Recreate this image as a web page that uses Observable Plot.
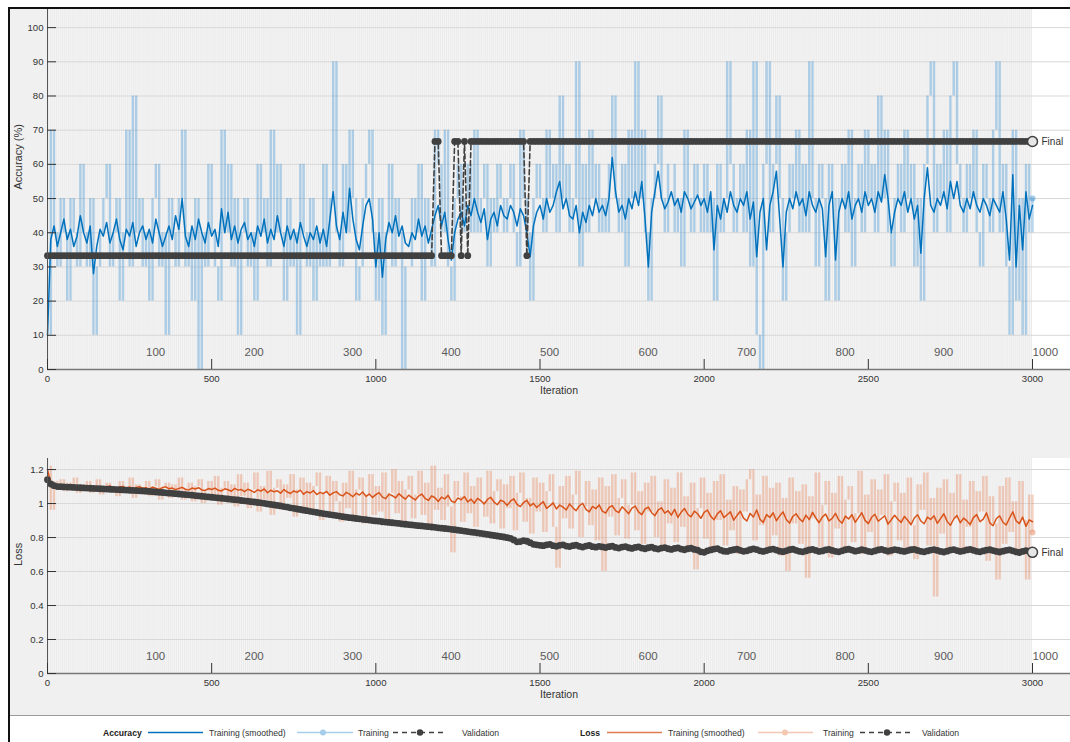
<!DOCTYPE html>
<html><head><meta charset="utf-8">
<script src="https://cdn.jsdelivr.net/npm/d3@7"></script>
<script src="https://cdn.jsdelivr.net/npm/@observablehq/plot@0.6"></script>
<style>
body{margin:0;background:#fff;font-family:"Liberation Sans",Arial,sans-serif;}
#fig{position:relative;width:1070px;height:742px;background:#fff;overflow:hidden;}
#panel{position:absolute;left:10px;top:9px;width:1060px;height:707px;background:#f0f0f0;}
#bl{position:absolute;left:8px;top:7px;width:2px;height:735px;background:#111;}
#bt{position:absolute;left:8px;top:7px;width:1062px;height:2px;background:#111;}
#acc{position:absolute;left:0;top:9px;}
#loss{position:absolute;left:0;top:458px;}
#legend{position:absolute;left:0;top:715px;}
</style></head>
<body><div id="fig"><div id="panel"></div><div id="bl"></div><div id="bt"></div>
<div id="acc"></div><div id="loss"></div><div id="legend"></div></div>
<script>
// Logged every 10 iterations: 0,10,...,3000
const logStep = 10;
const itersPerEpoch = 3;
const totalIterations = 3000;
const epochLabels = [100,200,300,400,500,600,700,800,900,1000];
const xTicks = [0,500,1000,1500,2000,2500,3000];
const accTicks = [0,10,20,30,40,50,60,70,80,90,100];
const lossTicks = [0,0.2,0.4,0.6,0.8,1,1.2];

const accTrain = [
10,70,40,30,50,40,20,50,40,30, 60,40,30,50,10,30,40,50,60,30, 40,50,20,40,70,30,80,40,50,30,
40,20,50,60,30,40,10,50,40,30, 50,70,30,40,20,50,0,40,30,60, 40,30,20,70,40,60,30,50,10,40,
50,30,40,20,60,40,50,30,70,40, 60,40,20,50,30,40,10,60,40,30, 50,20,40,30,60,30,50,90,40,30,
60,40,70,50,20,30,50,60,70,40, 20,50,10,40,60,30,50,40,0,30, 30,50,40,60,20,50,40,30,70,60,
40,70,30,20,50,60,40,50,60,40, 70,40,50,60,30,50,40,60,50,40, 50,60,40,30,70,50,40,20,50,60,
50,40,70,50,60,40,80,50,60,40, 50,90,30,60,40,70,50,60,40,50, 40,60,80,50,40,60,30,70,50,90,
50,70,40,20,50,60,80,50,40,60, 60,40,50,30,70,50,40,60,50,40, 60,40,50,20,60,40,50,90,60,40,
50,60,40,70,30,90,10,0,60,90, 40,60,80,50,20,40,60,50,70,40, 60,40,90,50,30,60,50,20,60,50,
20,50,60,40,70,30,50,60,40,70, 50,60,40,80,50,70,40,30,50,60, 40,70,50,60,30,50,20,60,80,90,
40,60,50,70,40,80,90,60,50,40, 60,50,70,40,30,60,50,40,70,90, 40,60,30,10,70,20,50,10,60,40,
50];
const accSmooth = [
10,38,42,36,40,44,38,41,36,39, 45,40,37,42,28,36,41,39,43,37, 40,44,38,35,41,39,43,36,40,42,
38,41,37,44,40,36,39,42,38,45, 41,50,39,36,42,38,44,40,37,43, 39,41,36,47,40,46,38,42,37,41,
43,38,40,36,42,39,44,37,41,38, 45,40,36,42,38,41,37,43,39,36, 40,38,42,37,41,36,44,52,42,38,
46,40,53,44,38,35,42,48,50,44, 30,40,27,38,43,40,45,39,42,37, 36,40,38,44,39,42,37,41,45,48,
42,46,38,32,40,44,46,42,48,45, 50,46,43,47,38,44,46,42,48,45, 44,48,46,42,47,45,40,33,42,46,
48,44,50,46,48,52,55,47,50,45, 44,48,40,46,43,48,45,50,46,48, 45,50,62,52,46,48,44,50,47,52,
48,55,44,30,46,52,58,50,47,49, 52,48,50,46,52,50,47,49,51,48, 50,46,52,35,48,44,50,46,52,48,
46,50,48,52,44,49,33,46,50,35, 48,52,58,44,30,46,50,47,52,48, 50,45,52,48,46,50,47,33,48,52,
32,46,50,47,52,44,48,50,46,52, 48,50,46,52,49,57,50,40,46,50, 48,52,46,50,44,48,34,50,59,48,
46,50,48,52,47,55,50,55,48,46, 50,47,52,48,46,50,48,45,50,48, 46,52,44,32,57,30,48,35,52,44,
48];
const accVal = [
33.3,33.3,33.3,33.3,33.3,33.3,33.3,33.3,33.3,33.3, 33.3,33.3,33.3,33.3,33.3,33.3,33.3,33.3,33.3,33.3,
33.3,33.3,33.3,33.3,33.3,33.3,33.3,33.3,33.3,33.3, 33.3,33.3,33.3,33.3,33.3,33.3,33.3,33.3,33.3,33.3,
33.3,33.3,33.3,33.3,33.3,33.3,33.3,33.3,33.3,33.3, 33.3,33.3,33.3,33.3,33.3,33.3,33.3,33.3,33.3,33.3,
33.3,33.3,33.3,33.3,33.3,33.3,33.3,33.3,33.3,33.3, 33.3,33.3,33.3,33.3,33.3,33.3,33.3,33.3,33.3,33.3,
33.3,33.3,33.3,33.3,33.3,33.3,33.3,33.3,33.3,33.3, 33.3,33.3,33.3,33.3,33.3,33.3,33.3,33.3,33.3,33.3,
33.3,33.3,33.3,33.3,33.3,33.3,33.3,33.3,33.3,33.3, 33.3,33.3,33.3,33.3,33.3,33.3,33.3,33.3,66.7,66.7,
33.3,33.3,33.3,33.3,66.7,66.7,33.3,66.7,33.3,66.7, 66.7,66.7,66.7,66.7,66.7,66.7,66.7,66.7,66.7,66.7,
66.7,66.7,66.7,66.7,66.7,66.7,33.3,66.7,66.7,66.7, 66.7,66.7,66.7,66.7,66.7,66.7,66.7,66.7,66.7,66.7,
66.7,66.7,66.7,66.7,66.7,66.7,66.7,66.7,66.7,66.7, 66.7,66.7,66.7,66.7,66.7,66.7,66.7,66.7,66.7,66.7,
66.7,66.7,66.7,66.7,66.7,66.7,66.7,66.7,66.7,66.7, 66.7,66.7,66.7,66.7,66.7,66.7,66.7,66.7,66.7,66.7,
66.7,66.7,66.7,66.7,66.7,66.7,66.7,66.7,66.7,66.7, 66.7,66.7,66.7,66.7,66.7,66.7,66.7,66.7,66.7,66.7,
66.7,66.7,66.7,66.7,66.7,66.7,66.7,66.7,66.7,66.7, 66.7,66.7,66.7,66.7,66.7,66.7,66.7,66.7,66.7,66.7,
66.7,66.7,66.7,66.7,66.7,66.7,66.7,66.7,66.7,66.7, 66.7,66.7,66.7,66.7,66.7,66.7,66.7,66.7,66.7,66.7,
66.7,66.7,66.7,66.7,66.7,66.7,66.7,66.7,66.7,66.7, 66.7,66.7,66.7,66.7,66.7,66.7,66.7,66.7,66.7,66.7,
66.7,66.7,66.7,66.7,66.7,66.7,66.7,66.7,66.7,66.7, 66.7,66.7,66.7,66.7,66.7,66.7,66.7,66.7,66.7,66.7,
66.7];
const lossTrain = [
1.22,0.96,1.13,1.08,1.14,1.07,1.12,1.09,1.15,1.06, 1.11,1.08,1.13,1.06,1.10,1.14,1.05,1.09,1.12,1.07,
1.10,1.04,1.13,1.08,1.06,1.15,1.03,1.11,1.09,1.05, 1.13,1.04,1.10,1.14,1.02,1.09,1.12,1.03,1.11,1.06,
1.15,1.02,1.08,1.12,1.01,1.10,1.14,1.00,1.07,1.13, 1.03,1.16,0.99,1.09,1.13,1.00,1.11,0.98,1.17,1.04,
1.12,0.97,1.08,1.18,0.95,1.10,1.02,1.19,0.93,1.09, 1.14,0.96,1.11,1.03,1.17,0.92,1.08,1.15,0.97,1.12,
0.94,1.10,1.18,0.90,1.06,1.16,0.95,1.13,1.01,0.89, 1.12,0.97,1.19,0.91,1.08,1.15,0.88,1.05,1.17,0.93,
1.10,0.95,1.18,0.90,1.06,1.20,0.94,1.13,0.88,1.08, 1.16,0.91,1.05,1.19,0.93,1.12,0.87,1.22,0.96,1.09,
0.90,1.17,0.98,0.71,1.13,1.04,0.89,1.18,0.94,1.10, 0.86,1.15,1.01,0.92,1.19,0.88,1.07,1.14,0.85,1.11,
0.97,1.16,0.84,1.06,1.18,0.89,1.03,0.82,1.15,0.95, 1.12,0.83,1.07,1.17,0.86,0.62,1.10,0.91,1.16,0.85,
1.05,1.19,0.80,0.98,1.13,0.87,1.08,0.78,1.15,0.60, 1.10,0.92,1.17,0.81,1.03,1.14,0.79,0.99,1.18,0.84,
1.07,0.76,1.12,0.95,1.16,0.80,1.01,0.74,1.14,0.88, 1.09,0.77,1.18,0.86,1.04,0.73,1.12,0.61,0.97,1.15,
0.79,1.06,0.72,1.13,0.90,1.17,0.75,1.02,0.84,1.10, 0.70,1.08,0.95,1.14,1.20,0.78,1.05,0.87,1.16,0.73,
1.09,0.81,1.12,0.69,1.03,0.60,1.15,0.88,1.07,0.76, 1.11,0.56,1.04,0.91,1.18,0.74,0.99,1.13,0.68,1.06,
0.85,1.16,0.72,1.02,1.10,0.77,0.94,1.19,0.70,1.05, 0.83,1.14,0.74,1.08,0.93,1.17,0.69,1.01,1.12,0.78,
1.06,0.72,1.15,0.87,0.67,1.11,0.96,1.18,0.75,1.03, 0.45,1.09,0.82,1.14,0.73,1.06,0.91,1.17,0.70,1.02,
0.86,1.13,0.71,1.07,0.95,1.16,0.66,1.04,0.88,0.55, 1.10,0.76,1.15,0.83,1.01,0.69,1.13,0.90,0.55,1.05,
0.83];
const lossSmooth = [
1.20,1.12,1.10,1.106,1.094,1.101,1.108,1.097,1.103,1.095, 1.099,1.092,1.104,1.098,1.093,1.101,1.096,1.089,1.099,1.103,
1.094,1.088,1.097,1.101,1.091,1.098,1.086,1.095,1.099,1.09, 1.093,1.085,1.096,1.09,1.083,1.094,1.098,1.087,1.091,1.082,
1.089,1.095,1.084,1.079,1.091,1.086,1.093,1.08,1.077,1.088, 1.083,1.091,1.078,1.074,1.087,1.081,1.072,1.089,1.079,1.083,
1.07,1.084,1.076,1.066,1.081,1.073,1.086,1.064,1.078,1.069, 1.075,1.061,1.082,1.068,1.059,1.074,1.066,1.079,1.055,1.07,
1.062,1.076,1.053,1.066,1.058,1.071,1.049,1.063,1.07,1.052, 1.045,1.066,1.055,1.04,1.061,1.05,1.068,1.042,1.056,1.036,
1.052,1.064,1.038,1.029,1.055,1.046,1.033,1.058,1.041,1.026, 1.049,1.035,1.021,1.043,1.056,1.03,1.018,1.045,1.034,1.012,
1.038,1.027,1.048,1.015,1.005,1.033,1.022,1.041,1.009,1.026, 1.002,1.031,1.016,0.997,1.024,1.037,1.008,0.993,1.019,1.011,
0.989,1.014,1.028,0.995,0.982,1.006,1.019,0.986,1.001,0.977, 0.994,1.011,0.972,0.986,1.004,0.968,0.991,0.979,0.962,0.998,
0.975,0.958,0.987,1.001,0.966,0.951,0.983,0.97,0.992,0.955, 0.944,0.976,0.988,0.958,0.947,0.981,0.962,0.94,0.973,0.985,
0.951,0.935,0.968,0.979,0.946,0.929,0.962,0.975,0.943,0.958, 0.932,0.966,0.918,0.949,0.971,0.937,0.922,0.955,0.94,0.913,
0.948,0.962,0.925,0.905,0.939,0.958,0.917,0.934,0.951,0.902, 0.93,0.955,0.914,0.897,0.942,0.921,0.962,0.908,0.889,0.935,
0.918,0.946,0.899,0.927,0.951,0.906,0.885,0.924,0.94,0.911, 0.893,0.932,0.905,0.948,0.915,0.887,0.921,0.938,0.898,0.913,
0.942,0.903,0.884,0.926,0.909,0.935,0.89,0.917,0.946,0.901, 0.882,0.919,0.937,0.896,0.912,0.928,0.879,0.905,0.931,0.908,
0.889,0.924,0.902,0.875,0.915,0.934,0.897,0.881,0.92,0.906, 0.928,0.884,0.911,0.94,0.895,0.872,0.909,0.93,0.887,0.914,
0.898,0.876,0.917,0.935,0.893,0.908,0.945,0.886,0.869,0.912, 0.927,0.89,0.874,0.915,0.951,0.899,0.882,0.92,0.866,0.904,
0.893];
const lossVal = [
1.14,1.115,1.105,1.10,1.099,1.098,1.097,1.096,1.095,1.094, 1.093,1.092,1.091,1.090,1.089,1.088,1.087,1.086,1.085,1.084,
1.083,1.082,1.081,1.080,1.079,1.078,1.077,1.076,1.075,1.074, 1.073,1.071,1.070,1.068,1.066,1.065,1.063,1.061,1.060,1.058,
1.056,1.054,1.053,1.051,1.049,1.047,1.045,1.043,1.041,1.039, 1.037,1.035,1.033,1.031,1.029,1.027,1.025,1.023,1.021,1.018,
1.016,1.014,1.011,1.009,1.006,1.004,1.001,0.998,0.995,0.992, 0.989,0.986,0.982,0.979,0.975,0.972,0.968,0.965,0.961,0.958,
0.954,0.951,0.948,0.944,0.941,0.938,0.935,0.932,0.929,0.926, 0.923,0.920,0.917,0.915,0.912,0.910,0.907,0.905,0.903,0.900,
0.898,0.896,0.893,0.891,0.889,0.887,0.885,0.883,0.880,0.878, 0.876,0.874,0.872,0.870,0.868,0.866,0.864,0.862,0.860,0.857,
0.855,0.853,0.851,0.848,0.846,0.843,0.841,0.838,0.835,0.832, 0.830,0.827,0.824,0.821,0.818,0.815,0.812,0.809,0.806,0.803,
0.799,0.795,0.786,0.775,0.776,0.782,0.778,0.770,0.760,0.757, 0.754,0.752,0.757,0.760,0.752,0.748,0.754,0.757,0.750,0.747,
0.752,0.755,0.748,0.744,0.750,0.753,0.746,0.743,0.748,0.745, 0.741,0.746,0.749,0.742,0.738,0.744,0.747,0.740,0.736,0.742,
0.745,0.738,0.734,0.740,0.743,0.736,0.732,0.738,0.741,0.734, 0.730,0.736,0.739,0.732,0.728,0.734,0.737,0.730,0.726,0.716,
0.713,0.722,0.727,0.732,0.735,0.726,0.720,0.718,0.724,0.728, 0.731,0.725,0.719,0.722,0.728,0.733,0.729,0.722,0.718,0.723,
0.729,0.732,0.726,0.720,0.717,0.722,0.728,0.731,0.725,0.719, 0.716,0.721,0.727,0.730,0.724,0.718,0.721,0.727,0.730,0.724,
0.719,0.716,0.722,0.728,0.731,0.726,0.720,0.723,0.728,0.725, 0.719,0.716,0.721,0.727,0.730,0.725,0.720,0.724,0.729,0.726,
0.721,0.718,0.723,0.728,0.730,0.724,0.719,0.716,0.721,0.726, 0.729,0.724,0.718,0.715,0.720,0.726,0.729,0.723,0.718,0.722,
0.727,0.730,0.725,0.719,0.716,0.721,0.726,0.728,0.723,0.718, 0.715,0.720,0.725,0.727,0.722,0.716,0.712,0.718,0.723,0.720,
0.713];

const FONT = '"Liberation Sans", Arial, Helvetica, sans-serif';
const X0 = 47, W = 1070, PX_PER_IT = (1032 - 47) / totalIterations;
const xMax = (W - X0) / PX_PER_IT;
// alternate epochs are shaded (one line per shaded epoch)
const shadedEpochs = d3.range(1, totalIterations / itersPerEpoch + 1, 2).map(e => e * itersPerEpoch);

function panel({raw, smooth, val, color, rawColor, yMax, yTicks, yFmt, yLabel, plotH}) {
  // each raw step is drawn as the near-vertical jump from the previous logged value
  const rows = raw.map((r, i) => ({it: i * logStep, raw: r, prev: i ? raw[i - 1] : r, sm: smooth[i], val: val[i]}));
  const last = rows[rows.length - 1];
  const perPx = yMax / plotH;
  return Plot.plot({
    width: W, height: plotH + 40,
    marginLeft: X0, marginRight: 0, marginTop: 0, marginBottom: 40,
    x: {domain: [0, xMax], axis: null},
    y: {domain: [0, yMax], axis: null},
    style: {background: "transparent", fontFamily: FONT, color: "#333"},
    marks: [
      Plot.rect([0], {x1: 0, x2: totalIterations, y1: 0, y2: yMax, fill: "#f5f5f5"}),
      Plot.rect([0], {x1: totalIterations, x2: xMax, y1: 0, y2: yMax, fill: "#ffffff"}),
      Plot.ruleX(shadedEpochs, {x: d => d, stroke: "#ebebeb", strokeWidth: 1}),
      Plot.ruleY(yTicks, {y: d => d, stroke: "#d8d8d8", strokeWidth: 1}),
      Plot.ruleX(rows, {x: "it", y1: "prev", y2: "raw", stroke: rawColor, strokeOpacity: 0.38, strokeWidth: 2.4}),
      Plot.line(rows, {x: "it", y: "sm", stroke: color, strokeWidth: 1.5}),
      Plot.dot([last], {x: "it", y: "raw", r: 3, fill: rawColor, fillOpacity: 0.5}),
      Plot.line(rows, {x: "it", y: "val", stroke: "#404040", strokeWidth: 1.6, strokeDasharray: "5,3"}),
      Plot.dot(rows, {x: "it", y: "val", r: 3.4, fill: "#404040"}),
      Plot.dot([last], {x: "it", y: "val", r: 5, fill: "#e6e6e6", stroke: "#404040", strokeWidth: 1.5}),
      Plot.text([last], {x: "it", y: "val", text: () => "Final", dx: 9, textAnchor: "start", fontSize: 10, fill: "#333"}),
      Plot.ruleX([0], {x: d => d, stroke: "#555", strokeWidth: 1}),
      Plot.ruleY([0], {y: d => d, stroke: "#777", strokeWidth: 1.5}),
      Plot.ruleX(xTicks, {x: d => d, y1: 0, y2: 10 * perPx, stroke: "#333", strokeWidth: 1}),
      Plot.ruleY(yTicks, {y: d => d, x1: 0, x2: 9 / PX_PER_IT, stroke: "#333", strokeWidth: 1}),
      Plot.axisY({ticks: yTicks, tickSize: 0, tickPadding: 4, tickFormat: yFmt, fontSize: 9.6, label: null}),
      Plot.axisX({ticks: xTicks, tickSize: 0, tickPadding: 6, tickFormat: d => String(d), fontSize: 9.6, label: null}),
      Plot.text(epochLabels, {x: d => d * itersPerEpoch, text: d => String(d), frameAnchor: "bottom", dy: -14, textAnchor: "start", fontSize: 11.5, fill: "#5a5a5a"}),
      Plot.text(["Iteration"], {text: d => d, frameAnchor: "bottom", dy: 24, fontSize: 10.5, fill: "#333"}),
      Plot.text([yLabel], {text: d => d, frameAnchor: "left", dx: -29, rotate: -90, fontSize: 11, fill: "#333"})
    ]
  });
}

document.getElementById("acc").appendChild(panel({
  raw: accTrain, smooth: accSmooth, val: accVal, color: "#0072BD", rawColor: "#3d94d1",
  yMax: 105.3, yTicks: accTicks, yFmt: d => String(d), yLabel: "Accuracy (%)", plotH: 360
}));
document.getElementById("loss").appendChild(panel({
  raw: lossTrain, smooth: lossSmooth, val: lossVal, color: "#D95319", rawColor: "#e8875c",
  yMax: 1.265, yTicks: lossTicks, yFmt: d => String(+d.toFixed(1)), yLabel: "Loss", plotH: 215
}));

// Legend below the charts
const legendGroups = [
  {title: "Accuracy", tx: 103, smooth: "#0072BD", raw: "#a6cdea", pos: [148, 203, 209, 297, 353, 323, 358, 393, 447, 420, 462]},
  {title: "Loss", tx: 580, smooth: "#e07a4f", raw: "#f4c7b2", pos: [607, 662, 668, 758, 813, 785, 823, 860, 913, 887, 922]}
];
const ly = 17.5, ty = 20.5;
let lsvg = `<svg width="1070" height="27" xmlns="http://www.w3.org/2000/svg" style="font-family:${FONT}">`;
lsvg += `<rect x="10" y="0" width="1060" height="27" fill="#fff"/><line x1="10" x2="1070" y1="0.5" y2="0.5" stroke="#9a9a9a"/>`;
for (const g of legendGroups) {
  const p = g.pos;
  lsvg += `<text x="${g.tx}" y="${ty}" font-size="8.6" font-weight="bold" fill="#222">${g.title}</text>`;
  lsvg += `<line x1="${p[0]}" x2="${p[1]}" y1="${ly}" y2="${ly}" stroke="${g.smooth}" stroke-width="1.5"/>`;
  lsvg += `<text x="${p[2]}" y="${ty}" font-size="8.6" fill="#333">Training (smoothed)</text>`;
  lsvg += `<line x1="${p[3]}" x2="${p[4]}" y1="${ly}" y2="${ly}" stroke="${g.raw}" stroke-width="1.5"/>`;
  lsvg += `<circle cx="${p[5]}" cy="${ly}" r="3" fill="${g.raw}"/>`;
  lsvg += `<text x="${p[6]}" y="${ty}" font-size="8.6" fill="#333">Training</text>`;
  lsvg += `<line x1="${p[7]}" x2="${p[8]}" y1="${ly}" y2="${ly}" stroke="#404040" stroke-width="1.3" stroke-dasharray="5,4"/>`;
  lsvg += `<circle cx="${p[9]}" cy="${ly}" r="3.2" fill="#404040"/>`;
  lsvg += `<text x="${p[10]}" y="${ty}" font-size="8.6" fill="#333">Validation</text>`;
}
lsvg += `</svg>`;
document.getElementById("legend").innerHTML = lsvg;
</script></body></html>
